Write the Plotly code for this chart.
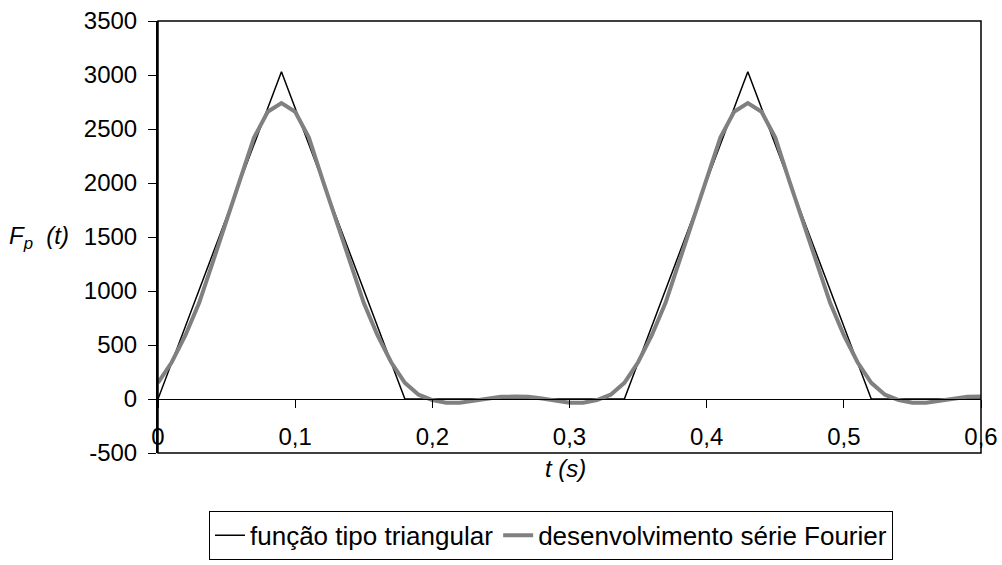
import plotly.graph_objects as go

# Triangular function vertices
tri_t = [0.0, 0.09, 0.18, 0.34, 0.43, 0.52, 0.60]
tri_v = [0, 3030, 0, 0, 3030, 0, 0]

# Fourier series development (sampled every 0.01 s)
four_t = [round(i * 0.01, 2) for i in range(61)]
four_v = [150, 340, 590, 890, 1270, 1650, 2030, 2420, 2660, 2740,
          2660, 2420, 2030, 1650, 1270, 890, 590, 340, 150, 40,
          -10, -35, -35, -15, 5, 20, 22, 20, 5, -15,
          -35, -35, -10, 40,
          150, 340, 590, 890, 1270, 1650, 2030, 2420, 2660, 2740,
          2660, 2420, 2030, 1650, 1270, 890, 590, 340, 150, 40,
          -10, -35, -35, -15, 5, 20, 22]

x_tickvals = [0, 0.1, 0.2, 0.3, 0.4, 0.5, 0.6]
x_ticktext = ["0", "0,1", "0,2", "0,3", "0,4", "0,5", "0,6"]
y_tickvals = [-500, 0, 500, 1000, 1500, 2000, 2500, 3000, 3500]
y_ticktext = ["-500", "0", "500", "1000", "1500", "2000", "2500", "3000", "3500"]

FONT = "Arial, Liberation Sans, sans-serif"

fig = go.Figure()
fig.add_trace(go.Scatter(x=tri_t, y=tri_v, mode="lines",
                         line=dict(color="black", width=1.5),
                         name="função tipo triangular"))
fig.add_trace(go.Scatter(x=four_t, y=four_v, mode="lines",
                         line=dict(color="#808080", width=4),
                         name="desenvolvimento série Fourier"))

fig.update_layout(
    width=1002, height=565,
    margin=dict(l=158, r=21, t=21, b=112, autoexpand=False),
    paper_bgcolor="white", plot_bgcolor="white",
    font=dict(family=FONT, size=24, color="black"),
    showlegend=True,
    legend=dict(orientation="h", x=0.4775, xanchor="center",
                yref="container", y=0.096, yanchor="top",
                bordercolor="black", borderwidth=1, font=dict(size=26),
                itemwidth=30, tracegroupgap=0),
    xaxis=dict(range=[0, 0.6], tickvals=x_tickvals, ticktext=x_ticktext,
               showgrid=False, zeroline=False, showline=True, linecolor="black", linewidth=1,
               ticks="outside", ticklen=8, tickcolor="black", tickwidth=1,
               anchor="free", position=0.125, ticklabelstandoff=8,
               automargin=False, tickfont=dict(size=24)),
    yaxis=dict(range=[-500, 3500], tickvals=y_tickvals, ticktext=y_ticktext,
               showgrid=False, zeroline=False,
               showline=True, linecolor="black", linewidth=2,
               ticks="outside", ticklen=8, tickcolor="black", tickwidth=1,
               ticklabelstandoff=6, automargin=False, tickfont=dict(size=24)),
    shapes=[dict(type="rect", xref="paper", yref="paper", x0=0, y0=0, x1=1, y1=1,
                 line=dict(color="black", width=1.5), layer="above")],
    annotations=[
        dict(text="<i>F</i><sub><i>p</i></sub><i>  (t)</i>", xref="paper", yref="y",
             x=-0.183, y=1500, xanchor="left", yanchor="middle", showarrow=False,
             font=dict(size=24)),
        dict(text="<i>t (s)</i>", xref="paper", yref="paper",
             x=0.495, y=0.0, xanchor="center", yanchor="top", showarrow=False,
             font=dict(size=24)),
    ],
)

fig.write_html("out.html")
